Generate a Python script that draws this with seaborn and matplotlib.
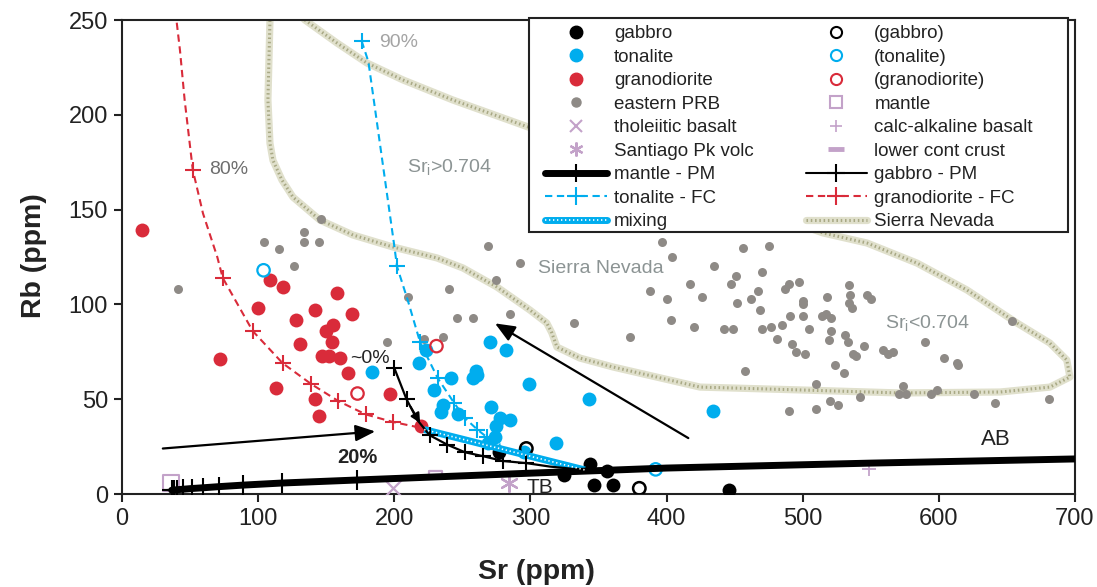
import matplotlib
matplotlib.use("Agg")
import matplotlib.pyplot as plt
import seaborn as sns
from matplotlib.lines import Line2D
from matplotlib.path import Path
from matplotlib.patches import Rectangle

# ---------------- data ----------------
gabbro_sr = [277, 344, 325, 356, 347, 361, 446]
gabbro_rb = [22, 16, 10, 12, 5, 5, 2]
gabbro_o_sr = [297, 380]
gabbro_o_rb = [24, 3]

tonalite_sr = [184, 223, 218, 270, 282, 260, 261, 258, 242, 229, 236, 234, 247, 271,
               278, 285, 275, 274, 269, 295, 319, 343, 434, 299]
tonalite_rb = [64.5, 76, 69, 80, 76, 65, 63, 61, 61, 55, 47, 43, 42, 46,
               40, 39, 36, 30, 27, 22, 27, 50, 44, 58]
tonalite_o_sr = [104, 392]
tonalite_o_rb = [118, 13]

grano_sr = [15, 109, 118, 158, 100, 142, 169, 128, 155, 150, 154, 131, 147, 152, 160,
            72, 166, 113, 197, 142, 145, 220]
grano_rb = [139, 113, 109, 106, 98, 97, 95, 92, 89, 86, 80, 79, 73, 73, 72,
            71, 64, 56, 53, 50, 41, 36]
grano_o_sr = [173, 231]
grano_o_rb = [53, 78]

prb_sr = [41, 104, 115, 134, 134, 145, 146, 126, 195,
          269, 292, 275, 240, 210, 246, 258, 285, 222, 236, 332, 373,
          397, 404, 388, 400, 417, 426, 403, 420,
          435, 447, 451, 452, 442, 449,
          456, 475, 470, 462, 467, 469, 470, 477, 481, 485, 491, 487, 490, 497, 500, 500,
          500, 492, 495, 502, 505, 518, 514, 517, 521, 521, 519, 534, 535, 534, 536, 547,
          550, 531, 533, 537, 539, 545, 559, 563, 566, 590, 604, 613, 614, 654, 458, 524,
          530, 510, 574, 571, 576, 599, 594, 626, 542, 520, 526, 641, 681, 510, 490]
prb_rb = [108, 133, 129, 138, 133, 133, 145, 120, 80,
          131, 122, 113, 108, 104, 93, 93, 95, 82, 83, 90, 83,
          133, 125, 107, 103, 111, 104, 92, 88,
          120, 111, 115, 101, 87, 87,
          130, 131, 117, 103, 107, 97, 87, 88, 82, 89, 94, 108, 111, 112, 102, 100,
          94, 79, 75, 74, 87, 104, 94, 95, 93, 86, 81, 110, 105, 101, 98, 105,
          103, 84, 80, 74, 73, 78, 76, 74, 75, 80, 72, 69, 68, 91, 65, 68,
          64, 58, 57, 53, 53, 55, 53, 53, 51, 49, 47, 48, 50, 45, 44]

mantle_sr = [36]
mantle_rb = [6]
thol_sr = [199]
thol_rb = [3]
calc_sr = [549]
calc_rb = [13]
sant_sr = [284]
sant_rb = [6]
lcc_sr = [230]
lcc_rb = [11]

mpm_sr = [36.5, 38.2, 40.6, 44.6, 51.2, 59.7, 71.4, 89, 117.5, 172.8, 300, 400, 550, 700]
mpm_rb = [2, 2.1, 2.3, 2.5, 2.9, 3.3, 3.9, 4.7, 5.8, 7.4, 11, 13.7, 16.3, 18.5]

gpm_sr = [200, 209, 217, 226, 239, 252, 265, 280, 297, 314, 335]
gpm_rb = [66.5, 50, 39, 31, 26, 22, 20, 17.4, 16.3, 14.5, 13]

tfc_sr = [176, 181, 200, 202, 210, 219, 232, 244, 252, 261, 268, 278]
tfc_rb = [239, 228, 131, 120, 102, 80, 61, 48, 40, 34, 30, 26]

gfc_sr = [39, 40, 42.6, 46, 52, 59.5, 70, 74, 96, 118, 139, 159, 179, 199, 219]
gfc_rb = [262, 250, 234, 208, 171, 148, 125, 114, 86, 69, 58, 49, 42, 38, 35]

mix_sr = [222, 340]
mix_rb = [34, 12.7]

sn_sr = [108.7, 108.7, 107.2, 108.7, 110.9, 117.5, 125.6, 145.4, 169.7, 199, 231.4, 250.5,
         275.4, 299.7, 312, 315.8, 319.5, 336.4, 360.7, 424.6, 498, 571.5, 645, 681.6,
         696.3, 694, 681.6, 657.4, 620.7, 584, 547.2, 514.9, 290.1, 243.1, 206.4, 180,
         157.9, 134.4, 123.4]
sn_rb = [262, 250, 207.8, 185, 176, 165.6, 156.6, 144.5, 136.6, 130.3, 124.5, 119.2,
         109.2, 97, 90.2, 84.9, 77.5, 71.7, 67, 56.4, 54.9, 53.3, 53.8, 56.4,
         61.7, 70.7, 79.6, 90.2, 107.6, 121.8, 132.4, 137.7, 195.7, 207.8, 218.4, 227.3,
         237.9, 250, 258]

x_ticks = [0, 100, 200, 300, 400, 500, 600, 700]
y_ticks = [0, 50, 100, 150, 200, 250]

# ---------------- style ----------------
BLUE = "#00ADEE"
RED = "#D92B3A"
GREY = "#8E8A86"
PURP = "#C3A2C9"
SN_BASE = "#e0e0cc"
SN_DOT = "#a9a985"

sns.set_theme(style="white")
plt.rcParams["font.family"] = ["Liberation Sans", "DejaVu Sans"]
plt.rcParams["mathtext.fontset"] = "custom"
plt.rcParams["mathtext.rm"] = "Liberation Sans"
plt.rcParams["mathtext.it"] = "Liberation Sans:italic"
plt.rcParams["mathtext.bf"] = "Liberation Sans:bold"

fig = plt.figure(figsize=(10.97, 5.87), dpi=100)
ax = fig.add_axes([0.1112, 0.1584, 0.8687, 0.8075])

# Sierra Nevada band
sns.lineplot(x=sn_sr, y=sn_rb, sort=False, estimator=None, ax=ax, color=SN_BASE,
             lw=5.2, zorder=1, legend=False)
sns.lineplot(x=sn_sr, y=sn_rb, sort=False, estimator=None, ax=ax, color=SN_DOT,
             lw=2.2, linestyle=(0, (0.5, 0.9)), zorder=1.1, legend=False)

# eastern PRB
sns.scatterplot(x=prb_sr, y=prb_rb, color=GREY, s=42, linewidth=0, ax=ax, zorder=2)

# FC curves
sns.lineplot(x=gfc_sr, y=gfc_rb, sort=False, estimator=None, ax=ax, color=RED, lw=1.5,
             linestyle=(0, (3.5, 2.2)), marker="+", markersize=11, markeredgewidth=1.5,
             markeredgecolor=RED, markevery=[4, 7, 8, 9, 10, 11, 12, 13], zorder=3, legend=False)
sns.lineplot(x=tfc_sr, y=tfc_rb, sort=False, estimator=None, ax=ax, color=BLUE, lw=1.5,
             linestyle=(0, (3.5, 2.2)), marker="+", markersize=11, markeredgewidth=1.5,
             markeredgecolor=BLUE, markevery=[0, 3, 5, 6, 7, 8, 9, 10], zorder=3, legend=False)

# sample points
sns.scatterplot(x=grano_sr, y=grano_rb, color=RED, s=100, linewidth=0, ax=ax, zorder=4)
sns.scatterplot(x=tonalite_sr, y=tonalite_rb, color=BLUE, s=100, linewidth=0, ax=ax, zorder=4)
sns.scatterplot(x=gabbro_sr, y=gabbro_rb, color="black", s=100, linewidth=0, ax=ax, zorder=4)
sns.scatterplot(x=grano_o_sr, y=grano_o_rb, color=RED, facecolor="none", edgecolor=RED,
                s=80, linewidth=1.6, ax=ax, zorder=4)
sns.scatterplot(x=tonalite_o_sr, y=tonalite_o_rb, color=BLUE, facecolor="none", edgecolor=BLUE,
                s=80, linewidth=1.6, ax=ax, zorder=4)
sns.scatterplot(x=gabbro_o_sr, y=gabbro_o_rb, color="black", facecolor="none", edgecolor="black",
                s=80, linewidth=1.8, ax=ax, zorder=4)

# reference compositions
rect = Path([(-1, -0.35), (1, -0.35), (1, 0.35), (-1, 0.35), (-1, -0.35)],
            [Path.MOVETO, Path.LINETO, Path.LINETO, Path.LINETO, Path.CLOSEPOLY])
sns.scatterplot(x=mantle_sr, y=mantle_rb, color=PURP, facecolor="none", edgecolor=PURP,
                marker="s", s=130, linewidth=1.5, ax=ax, zorder=4)
sns.scatterplot(x=thol_sr, y=thol_rb, color=PURP, marker="x", s=150, linewidth=1.6, ax=ax, zorder=4)
sns.scatterplot(x=calc_sr, y=calc_rb, color=PURP, marker="+", s=90, linewidth=1.3, ax=ax, zorder=4)
sns.scatterplot(x=sant_sr, y=sant_rb, color=PURP, marker=(6, 2, 0), s=150, linewidth=1.6,
                ax=ax, zorder=4)
sns.scatterplot(x=lcc_sr, y=lcc_rb, color=PURP, facecolor="none", edgecolor=PURP, marker=rect,
                s=85, linewidth=1.6, ax=ax, zorder=4)

# mixing
sns.lineplot(x=mix_sr, y=mix_rb, sort=False, estimator=None, ax=ax, color=BLUE, lw=5,
             solid_capstyle="butt", zorder=5, legend=False)
sns.lineplot(x=mix_sr, y=mix_rb, sort=False, estimator=None, ax=ax, color="white", lw=1.2,
             linestyle=(0, (0.8, 1.6)), zorder=5.1, legend=False)

# melting curves
sns.lineplot(x=mpm_sr, y=mpm_rb, sort=False, estimator=None, ax=ax, color="black", lw=5,
             marker="+", markersize=14, markeredgewidth=1.5, markeredgecolor="black",
             markevery=list(range(10)), solid_capstyle="round", zorder=5, legend=False)
sns.lineplot(x=gpm_sr, y=gpm_rb, sort=False, estimator=None, ax=ax, color="black", lw=1.6,
             marker="+", markersize=11, markeredgewidth=1.5, markeredgecolor="black",
             markevery=[0, 1, 3, 4, 5, 6, 7, 8], zorder=5, legend=False)
ax.annotate("", xy=(219, 37.5), xytext=(212, 46),
            arrowprops=dict(arrowstyle="-|>", color="black", lw=1.5, mutation_scale=14,
                            shrinkA=0, shrinkB=0), zorder=6)

# arrows
arrow_style = "-|>,head_length=0.6,head_width=0.25"
ax.annotate("", xy=(186, 33), xytext=(30, 24),
            arrowprops=dict(arrowstyle=arrow_style, color="black", lw=1.6,
                            mutation_scale=20, shrinkA=0, shrinkB=0), zorder=6)
ax.annotate("", xy=(274, 90), xytext=(416, 29.5),
            arrowprops=dict(arrowstyle=arrow_style, color="black", lw=1.6,
                            mutation_scale=20, shrinkA=0, shrinkB=0), zorder=6)

# text labels
ax.text(63.9, 171, "80%", fontsize=14, color="#6e6e6e", ha="left", va="center")
ax.text(188.8, 238, "90%", fontsize=14, color="#a4a4a4", ha="left", va="center")
ax.text(209.3, 172.6, r"Sr$_{\mathrm{i}}$>0.704", fontsize=14, color="#8c9494", ha="left", va="center")
ax.text(305.6, 118.7, "Sierra Nevada", fontsize=14, color="#8c9494", ha="left", va="center")
ax.text(560.4, 90.4, r"Sr$_{\mathrm{i}}$<0.704", fontsize=14, color="#8c9494", ha="left", va="center")
ax.text(197, 71.7, "~0%", fontsize=14, color="#222222", ha="right", va="center", zorder=7)
ax.text(172.6, 19, "20%", fontsize=14.5, fontweight="bold", color="#222222", ha="center",
        va="center", zorder=7)
ax.text(631, 28.5, "AB", fontsize=16, color="#222222", ha="left", va="center", zorder=7)
ax.text(297.5, 3.2, "TB", fontsize=15, color="#222222", ha="left", va="center", zorder=7)

# axes
ax.set_xlim(0, 700)
ax.set_ylim(0, 250)
ax.set_xticks(x_ticks)
ax.set_yticks(y_ticks)
ax.tick_params(axis="both", which="both", direction="out", length=6, width=1.5,
               labelsize=17, colors="#222222", bottom=True, left=True, top=False, right=False,
               pad=4)
for sp in ax.spines.values():
    sp.set_visible(True)
    sp.set_color("#222222")
    sp.set_linewidth(1.5)
ax.set_xlabel("Sr (ppm)", fontsize=20.5, fontweight="bold", color="#222222")
ax.set_ylabel("Rb (ppm)", fontsize=20.5, fontweight="bold", color="#222222")
ax.xaxis.set_label_coords(0.435, -0.138)
ax.yaxis.set_label_coords(-0.079, 0.502)
ax.grid(False)

# legend box (drawn explicitly to match the reference frame)
ax.add_patch(Rectangle((0.427, 0.5527), 0.9927 - 0.427, 1.0042 - 0.5527,
                       transform=ax.transAxes, facecolor="white", edgecolor="#222222",
                       lw=1.5, clip_on=False, zorder=9))

def mk(marker, **kw):
    return Line2D([], [], ls="none", marker=marker, **kw)

h = [
    mk("o", ms=9, mfc="black", mec="black"),
    mk("o", ms=9, mfc=BLUE, mec=BLUE),
    mk("o", ms=9, mfc=RED, mec=RED),
    mk("o", ms=6.5, mfc=GREY, mec=GREY),
    mk("x", ms=9, mec=PURP, mew=1.5),
    mk((6, 2, 0), ms=10, mec=PURP, mew=1.6),
    Line2D([], [], color="black", lw=5, marker="+", ms=13, mew=1.5, mec="black",
           solid_capstyle="round"),
    Line2D([], [], color=BLUE, lw=1.5, ls=(0, (3.5, 2.2)), marker="+", ms=13, mew=1.5, mec=BLUE),
    (Line2D([], [], color=BLUE, lw=5, solid_capstyle="round"),
     Line2D([], [], color="white", lw=1.2, ls=(0, (0.8, 1.6)))),
    mk("o", ms=8, mfc="none", mec="black", mew=1.5),
    mk("o", ms=8, mfc="none", mec=BLUE, mew=1.5),
    mk("o", ms=8, mfc="none", mec=RED, mew=1.5),
    mk("s", ms=9, mfc="none", mec=PURP, mew=1.5),
    mk("+", ms=9, mec=PURP, mew=1.2),
    mk("_", ms=11, mec=PURP, mew=3.5),
    Line2D([], [], color="black", lw=1.5, marker="+", ms=13, mew=1.5, mec="black"),
    Line2D([], [], color=RED, lw=1.5, ls=(0, (3.5, 2.2)), marker="+", ms=13, mew=1.5, mec=RED),
    (Line2D([], [], color=SN_BASE, lw=5.2), Line2D([], [], color=SN_DOT, lw=2.2, ls=(0, (0.5, 0.9)))),
]
labels = ["gabbro", "tonalite", "granodiorite", "eastern PRB", "tholeiitic basalt",
          "Santiago Pk volc", "mantle - PM", "tonalite - FC", "mixing",
          "(gabbro)", "(tonalite)", "(granodiorite)", "mantle", "calc-alkaline basalt",
          "lower cont crust", "gabbro - PM", "granodiorite - FC", "Sierra Nevada"]
leg = ax.legend(h, labels, ncol=2, loc="upper left", bbox_to_anchor=(0.4439, 0.9896),
                borderaxespad=0, frameon=False, fontsize=13.5, handlelength=3.3,
                labelspacing=0.34, columnspacing=2.77, handletextpad=0.37, borderpad=0)
leg.set_zorder(10)
for t in leg.get_texts():
    t.set_color("#222222")

fig.savefig("out.png", dpi=100)
